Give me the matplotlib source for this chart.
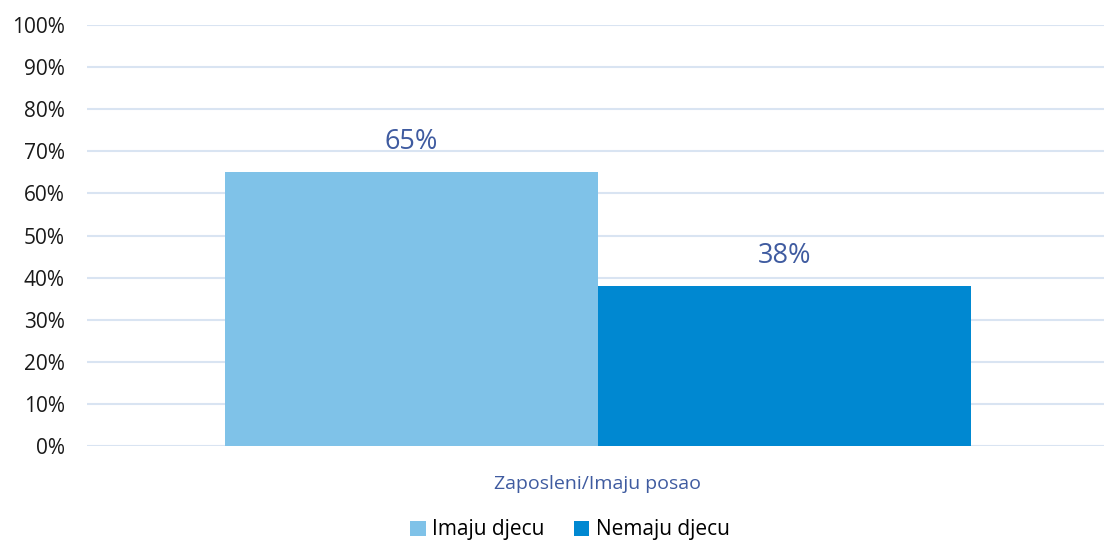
import numpy as np
import matplotlib
matplotlib.use("Agg")
import matplotlib.pyplot as plt
from matplotlib.ticker import FuncFormatter

plt.rcParams["font.family"] = ["Open Sans", "DejaVu Sans"]

category = "Zaposleni/Imaju posao"
series_names = ["Imaju djecu", "Nemaju djecu"]
series_values = [65, 38]
colors = ["#7FC2E8", "#0088D1"]

LABEL_COLOR = "#3F5BA0"
GRID_COLOR = "#D9E4F2"

fig = plt.figure(figsize=(11.04, 5.43), dpi=100)
ax = fig.add_axes([87 / 1104, 1 - 446 / 543, 1022 / 1104, (446 - 25) / 543])

width = 373 / 1022
offsets = [-width / 2, width / 2]
for name, val, col, off in zip(series_names, series_values, colors, offsets):
    ax.bar(off, val, width=width, color=col, label=name, zorder=3)
    ax.text(off, val + 3.8, f"{val}%", ha="center", va="bottom",
            fontsize=19.5, color=LABEL_COLOR, zorder=4)

ax.set_xlim(-0.5, 0.5)
ax.set_ylim(0, 100)
ax.set_yticks(np.arange(0, 101, 10))
ax.yaxis.set_major_formatter(FuncFormatter(lambda v, _: f"{int(v)}%"))
ax.set_xticks([0])
ax.set_xticklabels([category], color=LABEL_COLOR, fontsize=14)
ax.tick_params(axis="x", length=0, pad=21)
ax.tick_params(axis="y", length=0, pad=16, labelsize=15, labelcolor="#1a1a1a")
ax.grid(axis="y", color=GRID_COLOR, linewidth=1.5, zorder=0)
for s in ax.spines.values():
    s.set_visible(False)

ax.legend(loc="center", bbox_to_anchor=(483 / 1022, -84 / 421), ncol=2,
          frameon=False, fontsize=15, handlelength=0.75, handleheight=0.75,
          handletextpad=0.3, columnspacing=1.4)

fig.savefig("out.png", dpi=100)
